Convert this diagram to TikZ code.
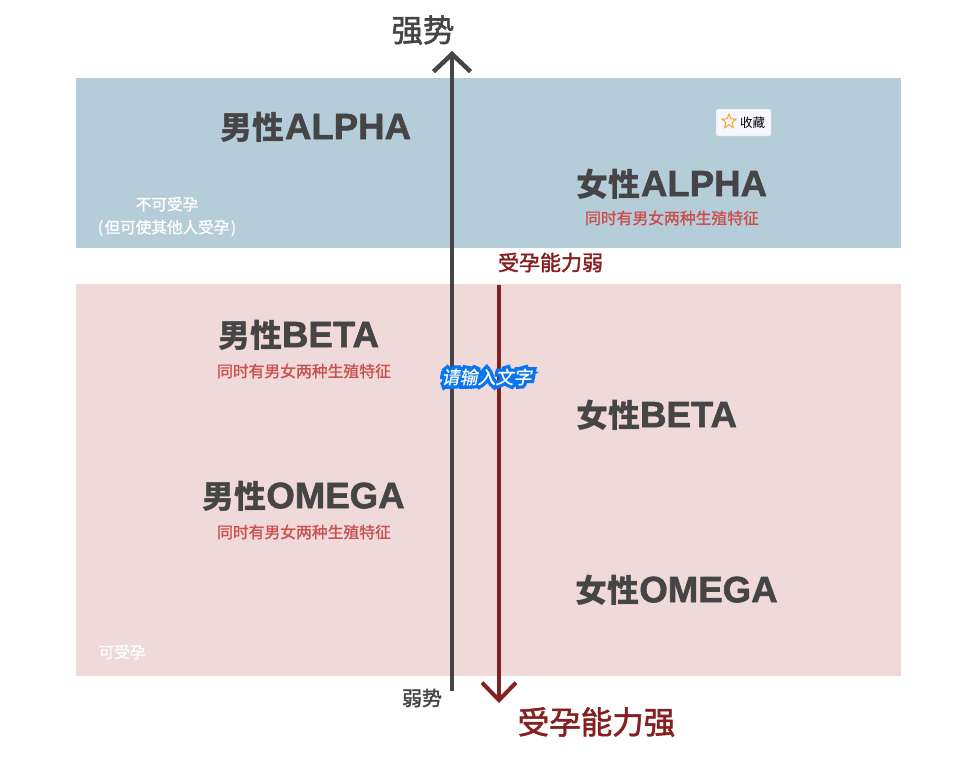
\documentclass[tikz,border=0pt]{standalone}
\usepackage{fontspec}
\setmainfont{Noto Sans CJK SC}
\newfontfamily\latinfont[FakeBold=1.6]{Liberation Sans Bold}
\newfontfamily\mediumfont[FakeBold=1.2]{Noto Sans CJK SC}
\newfontfamily\labelfont[FakeBold=1.8]{Noto Sans CJK SC}
\newfontfamily\haloinner[FakeSlant=0.2,FakeBold=0.8]{Noto Sans CJK SC}
\newfontfamily\halofont[FakeSlant=0.2,FakeBold=38]{Noto Sans CJK SC}
\usetikzlibrary{arrows.meta,shapes.geometric}
\definecolor{regionblue}{HTML}{B5CDD8}
\definecolor{regionpink}{HTML}{F0D9D9}
\definecolor{axisgray}{HTML}{454545}
\definecolor{axisred}{HTML}{861F1F}
\definecolor{notered}{HTML}{C9504F}
\definecolor{haloblue}{HTML}{0A75F0}
\definecolor{starorange}{HTML}{F5A623}
\newcommand{\headtext}[2]{{\bfseries\fontsize{32}{35}\selectfont #1}{\latinfont\fontsize{36.6}{35}\selectfont #2}}
\tikzset{
  region/.style 2 args={
    fill=#1,
    minimum width=825pt,
    minimum height={#2},
    inner sep=0pt,
  },
  heading/.style={
    text=axisgray,
    inner sep=0pt,
  },
  note/.style={
    text=notered,
    font=\mediumfont\fontsize{15.8}{16}\selectfont,
    inner sep=0pt,
  },
  white note/.style={
    text=white,
    font=\mediumfont\fontsize{15.6}{23}\selectfont,
    align=center,
    inner sep=0pt,
  },
  axis/.style 2 args={
    line width=#1,
    arrows={-{Straight Barb[length=17.5pt,width=#2,line width=#1]}},
  },
}

\begin{document}
\begin{tikzpicture}[x=1pt,y=-1pt]
        \useasboundingbox (0,0) rectangle (972,756);
        \node [region={regionblue}{170pt}] (upper) at (488.5,163) {};
        \node [region={regionpink}{392pt}] (lower) at (488.5,480) {};

        \coordinate (strong top) at (452,51);
        \coordinate (strong foot) at (452,691);
        \coordinate (fertile top) at (499,285);
        \coordinate (fertile foot) at (499,703);
        \draw [axis={4.5pt}{37pt}, draw=axisgray] (strong foot) -- (strong top);
        \draw [axis={4pt}{34pt}, draw=axisred] (fertile top) -- (fertile foot);

        \node [heading] (male alpha) at (316,127) {\headtext{男性}{ALPHA}};
        \node [heading] (female alpha) at (672,184) {\headtext{女性}{ALPHA}};
        \node [heading] (male beta) at (298.5,335) {\headtext{男性}{BETA}};
        \node [heading] (female beta) at (656.5,415) {\headtext{女性}{BETA}};
        \node [heading] (male omega) at (303.5,496) {\headtext{男性}{OMEGA}};
        \node [heading] (female omega) at (676.5,590) {\headtext{女性}{OMEGA}};

        \node [note] (note fa) at (672,218) {同时有男女两种生殖特征};
        \node [note] (note mb) at (304,371) {同时有男女两种生殖特征};
        \node [note] (note mo) at (304,532) {同时有男女两种生殖特征};

        \node [white note] (infertile) at (167,216.5) {不可受孕\\(\hspace{1.5pt}但可使其他人受孕\hspace{1.5pt})};
        \node [white note] (fertile) at (122,652) {可受孕};

        \node [inner sep=0pt, text=axisgray, font=\labelfont\fontsize{31.5}{32}\selectfont] (strong) at (423,30) {强势};
        \node [inner sep=0pt, text=axisgray, font=\labelfont\fontsize{20}{20}\selectfont] (weak) at (422,698) {弱势};
        \node [inner sep=0pt, text=axisred, font=\labelfont\fontsize{21}{21}\selectfont] (low) at (550.5,262.5) {受孕能力弱};
        \node [inner sep=0pt, text=axisred, font=\labelfont\fontsize{31.5}{32}\selectfont] (high) at (596.5,722) {受孕能力强};

        % text box left on the picture
        \node [inner sep=0pt, text=haloblue, font=\halofont\fontsize{18}{18}\selectfont] (halo) at (486.5,377) {请输入文字};
        \node [inner sep=0pt, text=white, font=\haloinner\fontsize{18}{18}\selectfont] (prompt) at (486.5,377) {请输入文字};

        \node [fill=black!2!blue!3, draw=regionblue!70!white, rounded corners=1.5pt, minimum width=55pt, minimum height=27pt, inner sep=0pt] (bookmark) at (743.5,122.5) {};
        \node [star, star points=5, star point ratio=2.3, draw=starorange, line width=1pt, minimum size=15pt, inner sep=0pt] (bookmark star) at (729,121.5) {};
        \node [inner sep=0pt, font=\fontsize{12.5}{13}\selectfont] (bookmark text) at (752.5,122.5) {收藏};
      \end{tikzpicture}
\end{document}
